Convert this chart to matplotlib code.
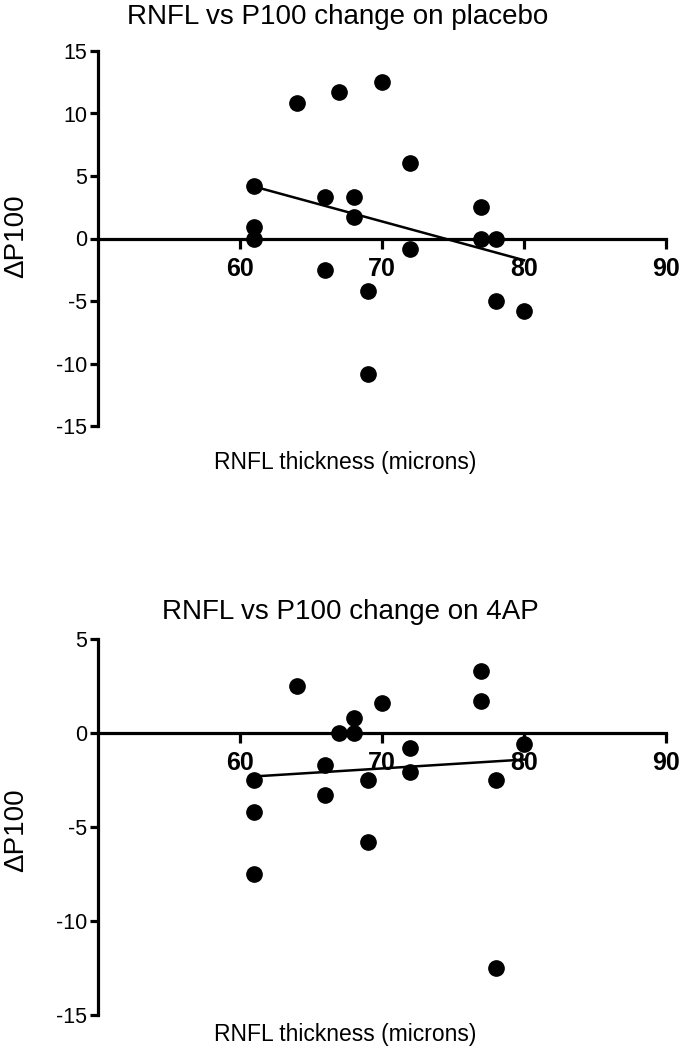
import numpy as np
import matplotlib
matplotlib.use("Agg")
import matplotlib.pyplot as plt

plt.rcParams['font.family'] = ['Liberation Sans', 'DejaVu Sans']

# Data
rnfl_placebo = [61, 61, 61, 64, 67, 70, 72, 66, 68, 68, 77, 77, 78, 72, 66, 69, 78, 80, 69]
dp100_placebo = [4.2, 0.9, 0.0, 10.8, 11.7, 12.5, 6.0, 3.3, 3.3, 1.7, 2.5, 0.0, 0.0, -0.8, -2.5, -4.2, -5.0, -5.8, -10.8]

rnfl_4ap = [64, 77, 77, 70, 68, 67, 68, 80, 72, 66, 72, 61, 69, 78, 66, 61, 69, 61, 78]
dp100_4ap = [2.5, 3.3, 1.7, 1.6, 0.8, 0.0, 0.0, -0.6, -0.8, -1.7, -2.1, -2.5, -2.5, -2.5, -3.3, -4.2, -5.8, -7.5, -12.5]

titles = ["RNFL vs P100 change on placebo", "RNFL vs P100 change on 4AP"]
xlabel = "RNFL thickness (microns)"
ylabel = "\u0394P100"
xticks = [60, 70, 80, 90]
yticks_top = [-15, -10, -5, 0, 5, 10, 15]
yticks_bottom = [-15, -10, -5, 0, 5]

W, H = 681, 1055
fig = plt.figure(figsize=(W / 100, H / 100), dpi=100)

def fx(px):
    return px / W

def fy(py):
    return 1 - py / H

ax1 = fig.add_axes([fx(98), fy(426), fx(666 - 98), (426 - 51) / H])
ax2 = fig.add_axes([fx(98), fy(1015), fx(666 - 98), (1015 - 639) / H])

def draw(ax, x, y, yticks, ylim):
    x = np.asarray(x, float)
    y = np.asarray(y, float)
    ax.plot(x, y, 'o', color='black', ms=11, zorder=3)
    slope, intercept = np.polyfit(x, y, 1)
    xl = np.array([x.min(), x.max()])
    ax.plot(xl, slope * xl + intercept, color='black', lw=1.8, zorder=2)
    ax.set_xlim(50, 90)
    ax.set_ylim(*ylim)
    for s in ['top', 'right']:
        ax.spines[s].set_visible(False)
    ax.spines['bottom'].set_position(('data', 0))
    ax.spines['left'].set_linewidth(2.3)
    ax.spines['bottom'].set_linewidth(2.3)
    ax.set_xticks(xticks)
    ax.set_xticklabels([str(t) for t in xticks], fontsize=18, fontweight='bold')
    ax.set_yticks(yticks)
    ax.set_yticklabels([str(t) for t in yticks], fontsize=15.5)
    ax.tick_params(axis='x', direction='out', length=7, width=2.3, pad=6)
    ax.tick_params(axis='y', direction='out', length=6, width=2.3, pad=2)
    ax.patch.set_alpha(0)

draw(ax1, rnfl_placebo, dp100_placebo, yticks_top, (-15, 15))
draw(ax2, rnfl_4ap, dp100_4ap, yticks_bottom, (-15, 5))

fig.text(fx(338), fy(17), titles[0], fontsize=20, ha='center', va='center')
fig.text(fx(350), fy(612), titles[1], fontsize=20, ha='center', va='center')
fig.text(fx(345), fy(462), xlabel, fontsize=16.5, ha='center', va='center')
fig.text(fx(345), fy(1035), xlabel, fontsize=16.5, ha='center', va='center')
fig.text(fx(16), fy(236), ylabel, fontsize=20, ha='center', va='center', rotation=90)
fig.text(fx(16), fy(830), ylabel, fontsize=20, ha='center', va='center', rotation=90)

fig.savefig("out.png", dpi=100)
